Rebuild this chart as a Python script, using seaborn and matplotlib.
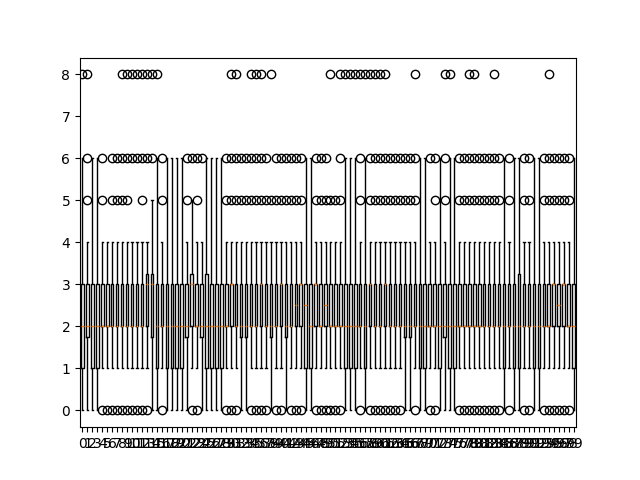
import matplotlib
matplotlib.use("Agg")
import matplotlib.pyplot as plt
import seaborn as sns
import pandas as pd

# Read box statistics per column (Q1, median, Q3, whisker ends, outliers)
q1 = [1, 1.75, 1, 1, 2, 2, 2, 2, 2, 2,
      2, 2, 2, 2, 1.75, 1, 2, 1, 1, 1,
      1, 1.75, 2, 2, 1.75, 1, 1, 1, 1, 2,
      2, 2, 1.75, 1.75, 2, 2, 2, 2, 1.75, 2,
      2, 1.75, 2, 2, 2, 1, 1, 2, 2, 2,
      2, 2, 2, 1, 1, 1, 2, 1, 2, 2,
      2, 2, 2, 2, 2, 1.75, 1.75, 2, 1, 1,
      2, 2, 1, 1.75, 1, 1, 2, 2, 2, 2,
      2, 2, 2, 2, 2, 1, 2, 1, 1, 2,
      2, 1, 1, 2, 2, 2, 2, 2, 2, 1]
med = [2, 2, 2, 2, 2, 2, 2, 2, 2, 2,
       2, 2, 2, 3, 3, 2, 2, 2, 2, 2,
       2, 2, 3, 2, 2, 2, 2, 2, 2, 2,
       3, 2, 2, 2, 2, 2, 3, 2, 2, 2,
       3, 2, 2, 2.5, 3, 2.5, 2, 3, 2, 2.5,
       2, 2, 2, 2, 2, 2, 2, 2, 3, 2,
       2, 3, 2, 2, 2, 2, 2, 2, 2, 2,
       2, 2, 2, 2, 2, 2, 2, 2, 2, 2,
       2, 2, 2, 2, 2, 2, 2, 2, 2, 2,
       2, 2, 2, 2, 2, 3, 2.5, 3, 2, 2]
q3 = [3, 3, 3, 3, 3, 3, 3, 3, 3, 3,
      3, 3, 3, 3.25, 3.25, 3, 3, 3, 3, 3,
      3, 3, 3.25, 3, 3, 3.25, 3, 3, 3, 3,
      3, 3, 3, 3, 3, 3, 3, 3, 3, 3,
      3, 3, 3, 3, 3, 3, 3, 3, 3, 3,
      3, 3, 3, 3, 3, 3, 3, 3, 3, 3,
      3, 3, 3, 3, 3, 3, 3, 3, 3, 3,
      3, 3, 3, 3, 3, 3, 3, 3, 3, 3,
      3, 3, 3, 3, 3, 3, 3, 3, 3.25, 3,
      3, 3, 3, 3, 3, 3, 3, 3, 3, 3]
wlo = [0, 0, 0, 0, 1, 1, 1, 1, 1, 1,
       1, 1, 1, 1, 0, 0, 1, 0, 0, 0,
       0, 0, 1, 1, 0, 0, 0, 0, 0, 1,
       1, 1, 0, 0, 1, 1, 1, 1, 0, 1,
       1, 0, 1, 1, 1, 0, 0, 1, 1, 1,
       1, 1, 1, 0, 0, 0, 1, 0, 1, 1,
       1, 1, 1, 1, 1, 0, 0, 1, 0, 0,
       1, 1, 0, 0, 0, 0, 1, 1, 1, 1,
       1, 1, 1, 1, 1, 0, 1, 0, 0, 1,
       1, 0, 0, 1, 1, 1, 1, 1, 1, 0]
whi = [6, 4, 6, 6, 4, 4, 4, 4, 4, 4,
       4, 4, 4, 4, 5, 6, 4, 6, 6, 6,
       6, 4, 5, 4, 4, 6, 6, 6, 6, 4,
       4, 4, 4, 4, 4, 4, 4, 4, 4, 4,
       4, 4, 4, 4, 4, 6, 6, 4, 4, 4,
       4, 4, 4, 6, 6, 6, 4, 6, 4, 4,
       4, 4, 4, 4, 4, 4, 4, 4, 6, 6,
       4, 4, 6, 4, 6, 6, 4, 4, 4, 4,
       4, 4, 4, 4, 4, 6, 4, 6, 6, 4,
       4, 6, 6, 4, 4, 4, 4, 4, 4, 6]
fliers = [[8], [5, 6, 8], [], [], [0, 5, 6], [0], [0, 5, 6], [0, 5, 6], [0, 5, 6, 8], [0, 5, 6, 8],
          [0, 6, 8], [0, 6, 8], [0, 5, 6, 8], [0, 6, 8], [6, 8], [8], [0, 5, 6], [], [], [],
          [], [5, 6], [0, 6], [0, 5, 6], [6], [], [], [], [], [0, 5, 6],
          [0, 5, 6, 8], [0, 5, 6, 8], [5, 6], [5, 6], [0, 5, 6, 8], [0, 5, 6, 8], [0, 5, 6, 8], [0, 5, 6], [5, 8], [0, 5, 6],
          [0, 5, 6], [5, 6], [0, 5, 6], [0, 5, 6], [0, 5, 6], [], [], [0, 5, 6], [0, 5, 6], [0, 5, 6],
          [0, 5, 8], [0, 5], [0, 5, 6, 8], [8], [8], [8], [0, 5, 6, 8], [8], [0, 5, 6, 8], [0, 5, 6, 8],
          [0, 5, 6, 8], [0, 5, 6, 8], [0, 5, 6], [0, 5, 6], [0, 5, 6], [5, 6], [5, 6], [0, 5, 6, 8], [], [],
          [0, 6], [0, 5, 6], [], [5, 6, 8], [8], [], [0, 5, 6], [0, 5, 6], [0, 5, 6, 8], [0, 5, 6, 8],
          [0, 5, 6], [0, 5, 6], [0, 5, 6], [0, 5, 6, 8], [0, 5, 6], [], [0, 5, 6], [], [], [0, 5, 6],
          [0, 5, 6], [], [], [0, 5, 6], [0, 5, 6, 8], [0, 5, 6], [0, 5, 6], [0, 5, 6], [0, 5, 6], []]
columns = list(range(100))

# Build a sample per column that reproduces the read statistics
rows = []
for i, c in enumerate(columns):
    vals = [wlo[i], whi[i]] + [q1[i]] * 20 + [med[i]] * 20 + [q3[i]] * 20 + fliers[i]
    rows.extend((c, v) for v in vals)
df = pd.DataFrame(rows, columns=["col", "val"])

fig, ax = plt.subplots(figsize=(6.4, 4.8), dpi=100)
sns.boxplot(
    data=df, x="col", y="val", ax=ax,
    fill=False, color="black", linecolor="black", linewidth=1.0,
    width=0.5, whis=1.5, fliersize=6,
    medianprops=dict(color="#ff7f0e", linewidth=1.0),
    flierprops=dict(marker="o", markerfacecolor="none",
                    markeredgecolor="black", markersize=6, markeredgewidth=1.0),
    boxprops=dict(color="black"),
    whiskerprops=dict(color="black"),
    capprops=dict(color="black"),
)
ax.set_xlabel("")
ax.set_ylabel("")
ax.set_xlim(-0.5, 99.5)
ax.set_ylim(-0.4, 8.4)
ax.set_yticks(range(0, 9))
fig.savefig("out.png", dpi=100)
